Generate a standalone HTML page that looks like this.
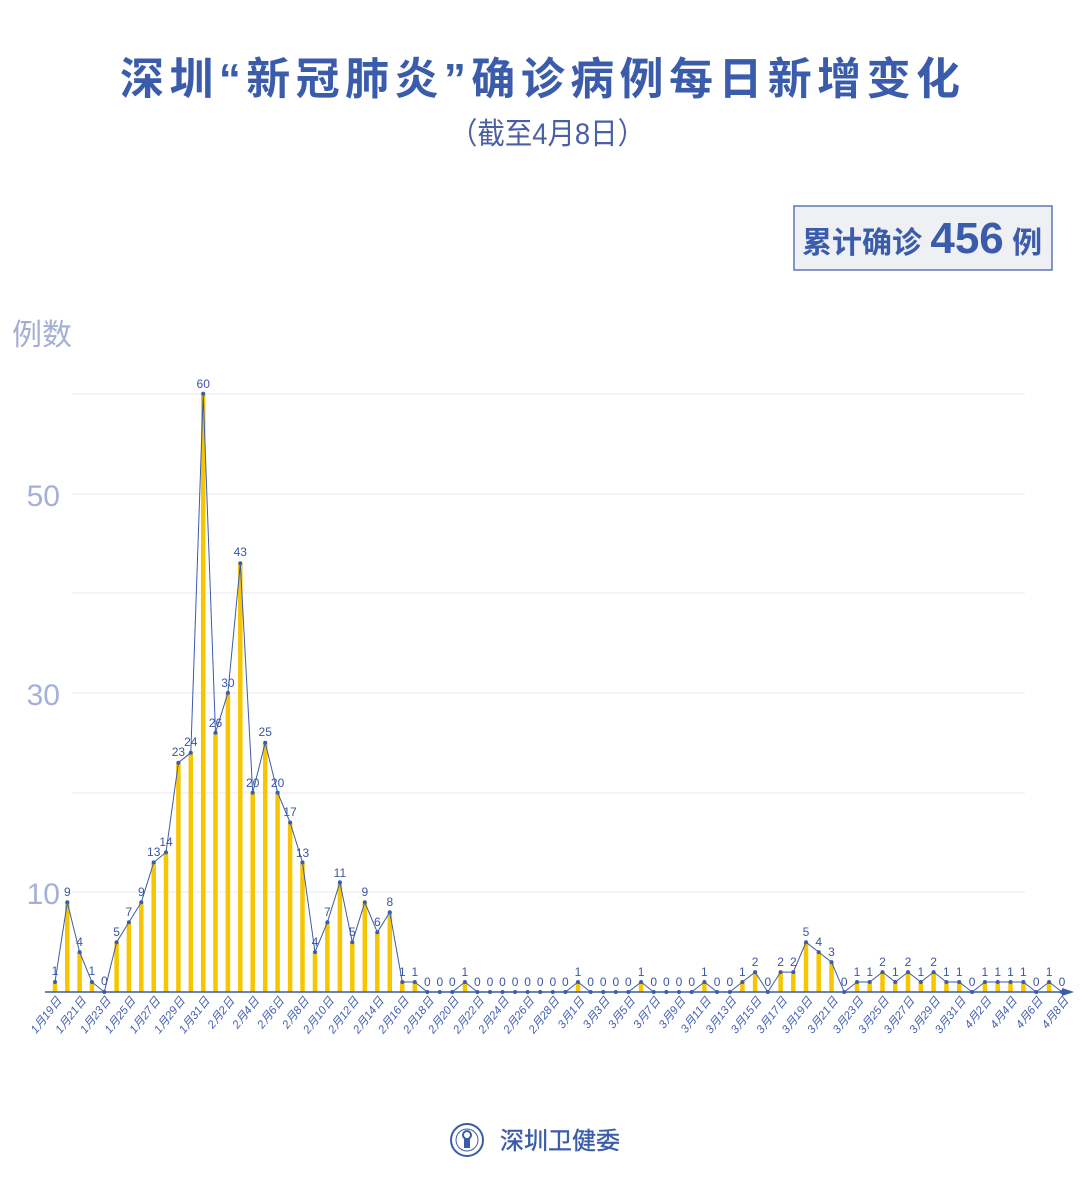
<!DOCTYPE html>
<html><head><meta charset="utf-8"><style>
html,body{margin:0;padding:0;background:#fff;}
svg{display:block;}
text{font-family:"Liberation Sans","Noto Sans CJK SC",sans-serif;}
.v{font-size:12px;fill:#3a55a6;text-anchor:middle;}
.d{font-size:11.5px;fill:#4360b5;text-anchor:end;font-style:italic;}
</style></head><body>
<svg width="1080" height="1184" viewBox="0 0 1080 1184">
<text x="120" y="94" textLength="840" lengthAdjust="spacing" font-size="44" font-weight="bold" fill="#3a5cab">深圳“新冠肺炎”确诊病例每日新增变化</text>
<text x="450" y="144" textLength="195" lengthAdjust="spacingAndGlyphs" font-size="30" fill="#4a5fa5">（截至4月8日）</text>
<rect x="794" y="206" width="258" height="64" fill="#eef0f4" stroke="#5b77b8" stroke-width="1.5"/>
<text x="802" y="253" font-size="30" font-weight="bold" fill="#3a5cab">累计确诊 <tspan font-size="44">456</tspan> 例</text>
<text x="12" y="345" font-size="30" fill="#a4afd6">例数</text>
<g font-size="30" fill="#a4b0d8" text-anchor="end"><text x="60" y="506">50</text><text x="60" y="705">30</text><text x="60" y="904">10</text></g>
<g stroke="#e8e8ee" stroke-width="1"><path d="M72 394H1025M72 494H1025M72 593H1025M72 693H1025M72 793H1025M72 892H1025"/></g>
<path stroke="#f7c600" stroke-width="4.5" fill="none" d="M55 992V982M67.3 992V902.3M79.6 992V952.1M91.9 992V982M116.6 992V942.2M128.9 992V922.2M141.3 992V902.3M153.7 992V862.4M166 992V852.4M178.4 992V762.7M190.8 992V752.7M203.2 992V393.8M215.5 992V732.8M227.9 992V692.9M240.3 992V563.3M252.7 992V792.6M265.2 992V742.7M277.6 992V792.6M290.1 992V822.5M302.5 992V862.4M315 992V952.1M327.4 992V922.2M339.9 992V882.3M352.3 992V942.2M364.8 992V902.3M377.3 992V932.2M389.8 992V912.2M402.3 992V982M414.8 992V982M464.9 992V982M578 992V982M641.1 992V982M704.4 992V982M742.4 992V982M755.1 992V972.1M780.6 992V972.1M793.3 992V972.1M806 992V942.2M818.7 992V952.1M831.5 992V962.1M857 992V982M869.7 992V982M882.5 992V972.1M895.3 992V982M908 992V972.1M920.8 992V982M933.6 992V972.1M946.4 992V982M959.2 992V982M984.9 992V982M997.7 992V982M1010.5 992V982M1023.4 992V982M1049.1 992V982"/>
<path d="M45 992H1068" stroke="#3a5caa" stroke-width="1.5"/>
<path d="M1062 988L1074 992L1062 996Z" fill="#3a5caa"/>
<polyline fill="none" stroke="#3a5caa" stroke-width="1" points="55,982 67.3,902.3 79.6,952.1 91.9,982 104.3,992 116.6,942.2 128.9,922.2 141.3,902.3 153.7,862.4 166,852.4 178.4,762.7 190.8,752.7 203.2,393.8 215.5,732.8 227.9,692.9 240.3,563.3 252.7,792.6 265.2,742.7 277.6,792.6 290.1,822.5 302.5,862.4 315,952.1 327.4,922.2 339.9,882.3 352.3,942.2 364.8,902.3 377.3,932.2 389.8,912.2 402.3,982 414.8,982 427.3,992 439.8,992 452.3,992 464.9,982 477.4,992 490,992 502.5,992 515.1,992 527.6,992 540.2,992 552.8,992 565.4,992 578,982 590.6,992 603.2,992 615.8,992 628.4,992 641.1,982 653.7,992 666.3,992 679,992 691.7,992 704.4,982 717.1,992 729.8,992 742.4,982 755.1,972.1 767.8,992 780.6,972.1 793.3,972.1 806,942.2 818.7,952.1 831.5,962.1 844.2,992 857,982 869.7,982 882.5,972.1 895.3,982 908,972.1 920.8,982 933.6,972.1 946.4,982 959.2,982 972.1,992 984.9,982 997.7,982 1010.5,982 1023.4,982 1036.2,992 1049.1,982 1062,992"/>
<g fill="#3a5caa">
<circle cx="55" cy="982" r="2"/><circle cx="67.3" cy="902.3" r="2"/><circle cx="79.6" cy="952.1" r="2"/><circle cx="91.9" cy="982" r="2"/><circle cx="104.3" cy="992" r="2"/><circle cx="116.6" cy="942.2" r="2"/><circle cx="128.9" cy="922.2" r="2"/><circle cx="141.3" cy="902.3" r="2"/><circle cx="153.7" cy="862.4" r="2"/><circle cx="166" cy="852.4" r="2"/><circle cx="178.4" cy="762.7" r="2"/><circle cx="190.8" cy="752.7" r="2"/><circle cx="203.2" cy="393.8" r="2"/><circle cx="215.5" cy="732.8" r="2"/><circle cx="227.9" cy="692.9" r="2"/><circle cx="240.3" cy="563.3" r="2"/><circle cx="252.7" cy="792.6" r="2"/><circle cx="265.2" cy="742.7" r="2"/><circle cx="277.6" cy="792.6" r="2"/><circle cx="290.1" cy="822.5" r="2"/><circle cx="302.5" cy="862.4" r="2"/><circle cx="315" cy="952.1" r="2"/><circle cx="327.4" cy="922.2" r="2"/><circle cx="339.9" cy="882.3" r="2"/><circle cx="352.3" cy="942.2" r="2"/><circle cx="364.8" cy="902.3" r="2"/><circle cx="377.3" cy="932.2" r="2"/><circle cx="389.8" cy="912.2" r="2"/><circle cx="402.3" cy="982" r="2"/><circle cx="414.8" cy="982" r="2"/><circle cx="427.3" cy="992" r="2"/><circle cx="439.8" cy="992" r="2"/><circle cx="452.3" cy="992" r="2"/><circle cx="464.9" cy="982" r="2"/><circle cx="477.4" cy="992" r="2"/><circle cx="490" cy="992" r="2"/><circle cx="502.5" cy="992" r="2"/><circle cx="515.1" cy="992" r="2"/><circle cx="527.6" cy="992" r="2"/><circle cx="540.2" cy="992" r="2"/><circle cx="552.8" cy="992" r="2"/><circle cx="565.4" cy="992" r="2"/><circle cx="578" cy="982" r="2"/><circle cx="590.6" cy="992" r="2"/><circle cx="603.2" cy="992" r="2"/><circle cx="615.8" cy="992" r="2"/><circle cx="628.4" cy="992" r="2"/><circle cx="641.1" cy="982" r="2"/><circle cx="653.7" cy="992" r="2"/><circle cx="666.3" cy="992" r="2"/><circle cx="679" cy="992" r="2"/><circle cx="691.7" cy="992" r="2"/><circle cx="704.4" cy="982" r="2"/><circle cx="717.1" cy="992" r="2"/><circle cx="729.8" cy="992" r="2"/><circle cx="742.4" cy="982" r="2"/><circle cx="755.1" cy="972.1" r="2"/><circle cx="767.8" cy="992" r="2"/><circle cx="780.6" cy="972.1" r="2"/><circle cx="793.3" cy="972.1" r="2"/><circle cx="806" cy="942.2" r="2"/><circle cx="818.7" cy="952.1" r="2"/><circle cx="831.5" cy="962.1" r="2"/><circle cx="844.2" cy="992" r="2"/><circle cx="857" cy="982" r="2"/><circle cx="869.7" cy="982" r="2"/><circle cx="882.5" cy="972.1" r="2"/><circle cx="895.3" cy="982" r="2"/><circle cx="908" cy="972.1" r="2"/><circle cx="920.8" cy="982" r="2"/><circle cx="933.6" cy="972.1" r="2"/><circle cx="946.4" cy="982" r="2"/><circle cx="959.2" cy="982" r="2"/><circle cx="972.1" cy="992" r="2"/><circle cx="984.9" cy="982" r="2"/><circle cx="997.7" cy="982" r="2"/><circle cx="1010.5" cy="982" r="2"/><circle cx="1023.4" cy="982" r="2"/><circle cx="1036.2" cy="992" r="2"/><circle cx="1049.1" cy="982" r="2"/><circle cx="1062" cy="992" r="2"/>
</g>
<g class="v">
<text x="55" y="975">1</text><text x="67.3" y="896">9</text><text x="79.6" y="946">4</text><text x="91.9" y="975">1</text><text x="104.3" y="985">0</text><text x="116.6" y="936">5</text><text x="128.9" y="916">7</text><text x="141.3" y="896">9</text><text x="153.7" y="856">13</text><text x="166" y="846">14</text><text x="178.4" y="756">23</text><text x="190.8" y="746">24</text><text x="203.2" y="388">60</text><text x="215.5" y="727">26</text><text x="227.9" y="687">30</text><text x="240.3" y="556">43</text><text x="252.7" y="787">20</text><text x="265.2" y="736">25</text><text x="277.6" y="787">20</text><text x="290.1" y="816">17</text><text x="302.5" y="857">13</text><text x="315" y="946">4</text><text x="327.4" y="916">7</text><text x="339.9" y="877">11</text><text x="352.3" y="936">5</text><text x="364.8" y="896">9</text><text x="377.3" y="926">6</text><text x="389.8" y="906">8</text><text x="402.3" y="976">1</text><text x="414.8" y="976">1</text><text x="427.3" y="986">0</text><text x="439.8" y="986">0</text><text x="452.3" y="986">0</text><text x="464.9" y="976">1</text><text x="477.4" y="986">0</text><text x="490" y="986">0</text><text x="502.5" y="986">0</text><text x="515.1" y="986">0</text><text x="527.6" y="986">0</text><text x="540.2" y="986">0</text><text x="552.8" y="986">0</text><text x="565.4" y="986">0</text><text x="578" y="976">1</text><text x="590.6" y="986">0</text><text x="603.2" y="986">0</text><text x="615.8" y="986">0</text><text x="628.4" y="986">0</text><text x="641.1" y="976">1</text><text x="653.7" y="986">0</text><text x="666.3" y="986">0</text><text x="679" y="986">0</text><text x="691.7" y="986">0</text><text x="704.4" y="976">1</text><text x="717.1" y="986">0</text><text x="729.8" y="986">0</text><text x="742.4" y="976">1</text><text x="755.1" y="966">2</text><text x="767.8" y="986">0</text><text x="780.6" y="966">2</text><text x="793.3" y="966">2</text><text x="806" y="936">5</text><text x="818.7" y="946">4</text><text x="831.5" y="956">3</text><text x="844.2" y="986">0</text><text x="857" y="976">1</text><text x="869.7" y="976">1</text><text x="882.5" y="966">2</text><text x="895.3" y="976">1</text><text x="908" y="966">2</text><text x="920.8" y="976">1</text><text x="933.6" y="966">2</text><text x="946.4" y="976">1</text><text x="959.2" y="976">1</text><text x="972.1" y="986">0</text><text x="984.9" y="976">1</text><text x="997.7" y="976">1</text><text x="1010.5" y="976">1</text><text x="1023.4" y="976">1</text><text x="1036.2" y="986">0</text><text x="1049.1" y="976">1</text><text x="1062" y="986">0</text>
</g>
<g class="d">
<text transform="translate(62,1001) rotate(-52)">1月19日</text>
<text transform="translate(86.6,1001) rotate(-52)">1月21日</text>
<text transform="translate(111.3,1001) rotate(-52)">1月23日</text>
<text transform="translate(135.9,1001) rotate(-52)">1月25日</text>
<text transform="translate(160.7,1001) rotate(-52)">1月27日</text>
<text transform="translate(185.4,1001) rotate(-52)">1月29日</text>
<text transform="translate(210.2,1001) rotate(-52)">1月31日</text>
<text transform="translate(234.9,1001) rotate(-52)">2月2日</text>
<text transform="translate(259.7,1001) rotate(-52)">2月4日</text>
<text transform="translate(284.6,1001) rotate(-52)">2月6日</text>
<text transform="translate(309.5,1001) rotate(-52)">2月8日</text>
<text transform="translate(334.4,1001) rotate(-52)">2月10日</text>
<text transform="translate(359.3,1001) rotate(-52)">2月12日</text>
<text transform="translate(384.3,1001) rotate(-52)">2月14日</text>
<text transform="translate(409.3,1001) rotate(-52)">2月16日</text>
<text transform="translate(434.3,1001) rotate(-52)">2月18日</text>
<text transform="translate(459.3,1001) rotate(-52)">2月20日</text>
<text transform="translate(484.4,1001) rotate(-52)">2月22日</text>
<text transform="translate(509.5,1001) rotate(-52)">2月24日</text>
<text transform="translate(534.6,1001) rotate(-52)">2月26日</text>
<text transform="translate(559.8,1001) rotate(-52)">2月28日</text>
<text transform="translate(585,1001) rotate(-52)">3月1日</text>
<text transform="translate(610.2,1001) rotate(-52)">3月3日</text>
<text transform="translate(635.4,1001) rotate(-52)">3月5日</text>
<text transform="translate(660.7,1001) rotate(-52)">3月7日</text>
<text transform="translate(686,1001) rotate(-52)">3月9日</text>
<text transform="translate(711.4,1001) rotate(-52)">3月11日</text>
<text transform="translate(736.8,1001) rotate(-52)">3月13日</text>
<text transform="translate(762.1,1001) rotate(-52)">3月15日</text>
<text transform="translate(787.6,1001) rotate(-52)">3月17日</text>
<text transform="translate(813,1001) rotate(-52)">3月19日</text>
<text transform="translate(838.5,1001) rotate(-52)">3月21日</text>
<text transform="translate(864,1001) rotate(-52)">3月23日</text>
<text transform="translate(889.5,1001) rotate(-52)">3月25日</text>
<text transform="translate(915,1001) rotate(-52)">3月27日</text>
<text transform="translate(940.6,1001) rotate(-52)">3月29日</text>
<text transform="translate(966.2,1001) rotate(-52)">3月31日</text>
<text transform="translate(991.9,1001) rotate(-52)">4月2日</text>
<text transform="translate(1017.5,1001) rotate(-52)">4月4日</text>
<text transform="translate(1043.2,1001) rotate(-52)">4月6日</text>
<text transform="translate(1069,1001) rotate(-52)">4月8日</text>
</g>
<circle cx="467" cy="1140" r="16" fill="#fff" stroke="#3a5caa" stroke-width="2"/>
<circle cx="467" cy="1140" r="11" fill="none" stroke="#3a5caa" stroke-width="1"/>
<circle cx="467" cy="1135" r="4" fill="none" stroke="#3a5caa" stroke-width="2"/>
<rect x="464" y="1139" width="6" height="9" fill="#3a5caa"/>
<text x="500" y="1149" font-size="24" fill="#3a5caa" stroke="#3a5caa" stroke-width="0.4">深圳卫健委</text>
</svg>
</body></html>
